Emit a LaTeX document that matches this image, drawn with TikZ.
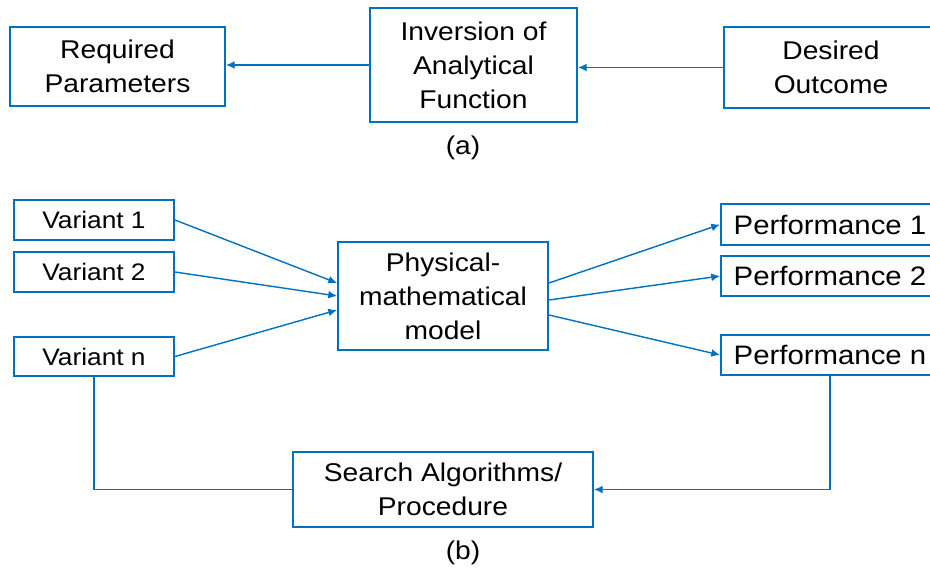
\documentclass[tikz,border=0pt]{standalone}
\usepackage{fontspec}
\setmainfont{Liberation Sans}[FakeStretch=1.1]
\usetikzlibrary{arrows.meta,positioning}
\definecolor{lineblue}{RGB}{0,112,192}

\begin{document}
\begin{tikzpicture}[x=0.02cm,y=-0.02cm,
		box/.style={draw=lineblue,line width=1.1pt,align=center,inner sep=0pt,font=\fontsize{14.6}{19.3}\selectfont},
		varbox/.style={box,minimum width=3.2cm,minimum height=0.8cm,font=\fontsize{13.6}{16}\selectfont},
		perfbox/.style={box,minimum width=4.36cm,minimum height=0.8cm,font=\fontsize{15.2}{18}\selectfont},
		flow/.style={draw=lineblue,line width=0.8pt,-{Latex[length=5pt,width=4.5pt]}},
		link/.style={draw=lineblue,line width=0.8pt}]
		\clip (0,0) rectangle (930,575);
		% (a)
		\node[box,minimum width=4.3cm,minimum height=1.58cm] (req) at (117.5,66.5) {Required\\Parameters};
		\node[box,minimum width=4.14cm,minimum height=2.28cm] (inv) at (473.5,65) {Inversion of\\Analytical\\Function};
		\node[box,minimum width=4.28cm,minimum height=1.62cm] (des) at (831,67.5) {Desired\\Outcome};
		\node[font=\fontsize{14.6}{19.3}\selectfont] (lbla) at (463,148) {(a)};
		
		% (b)
		\node[varbox] (v1) at (94,220) {Variant 1};
		\node[varbox] (v2) at (94,272) {Variant 2};
		\node[varbox,minimum height=0.78cm] (vn) at (94,356.5) {Variant n};
		\node[box,minimum width=4.2cm,minimum height=2.16cm] (phys) at (443,296) {Physical-\\mathematical\\model};
		\node[perfbox,minimum height=0.82cm] (p1) at (830,224.5) {Performance 1};
		\node[perfbox] (p2) at (830,276) {Performance 2};
		\node[perfbox] (pn) at (830,355) {Performance n};
		\node[box,minimum width=6cm,minimum height=1.5cm] (search) at (443,489.5) {Search Algorithms/\\Procedure};
		\node[font=\fontsize{14.6}{19.3}\selectfont] (lblb) at (463,553) {(b)};
		
		\path[flow]	(inv.west)	--	(inv.west -| req.east);
		\path[flow]	(des.west)	--	(des.west -| inv.east);
		\path[flow]	(v1.east)	--	([yshift=0.26cm]phys.west);
		\path[flow]	(v2.east)	--	(phys.west);
		\path[flow]	(vn.east)	--	([yshift=-0.28cm]phys.west);
		\path[flow]	([yshift=0.26cm]phys.east)	--	(p1.west);
		\path[flow]	([yshift=-0.08cm]phys.east)	--	(p2.west);
		\path[flow]	([yshift=-0.38cm]phys.east)	--	(pn.west);
		\path[flow]	(pn.south)	|-	(search.east);
		\path[link]	(search.west)	-|	(vn.south);
	\end{tikzpicture}
\end{document}
